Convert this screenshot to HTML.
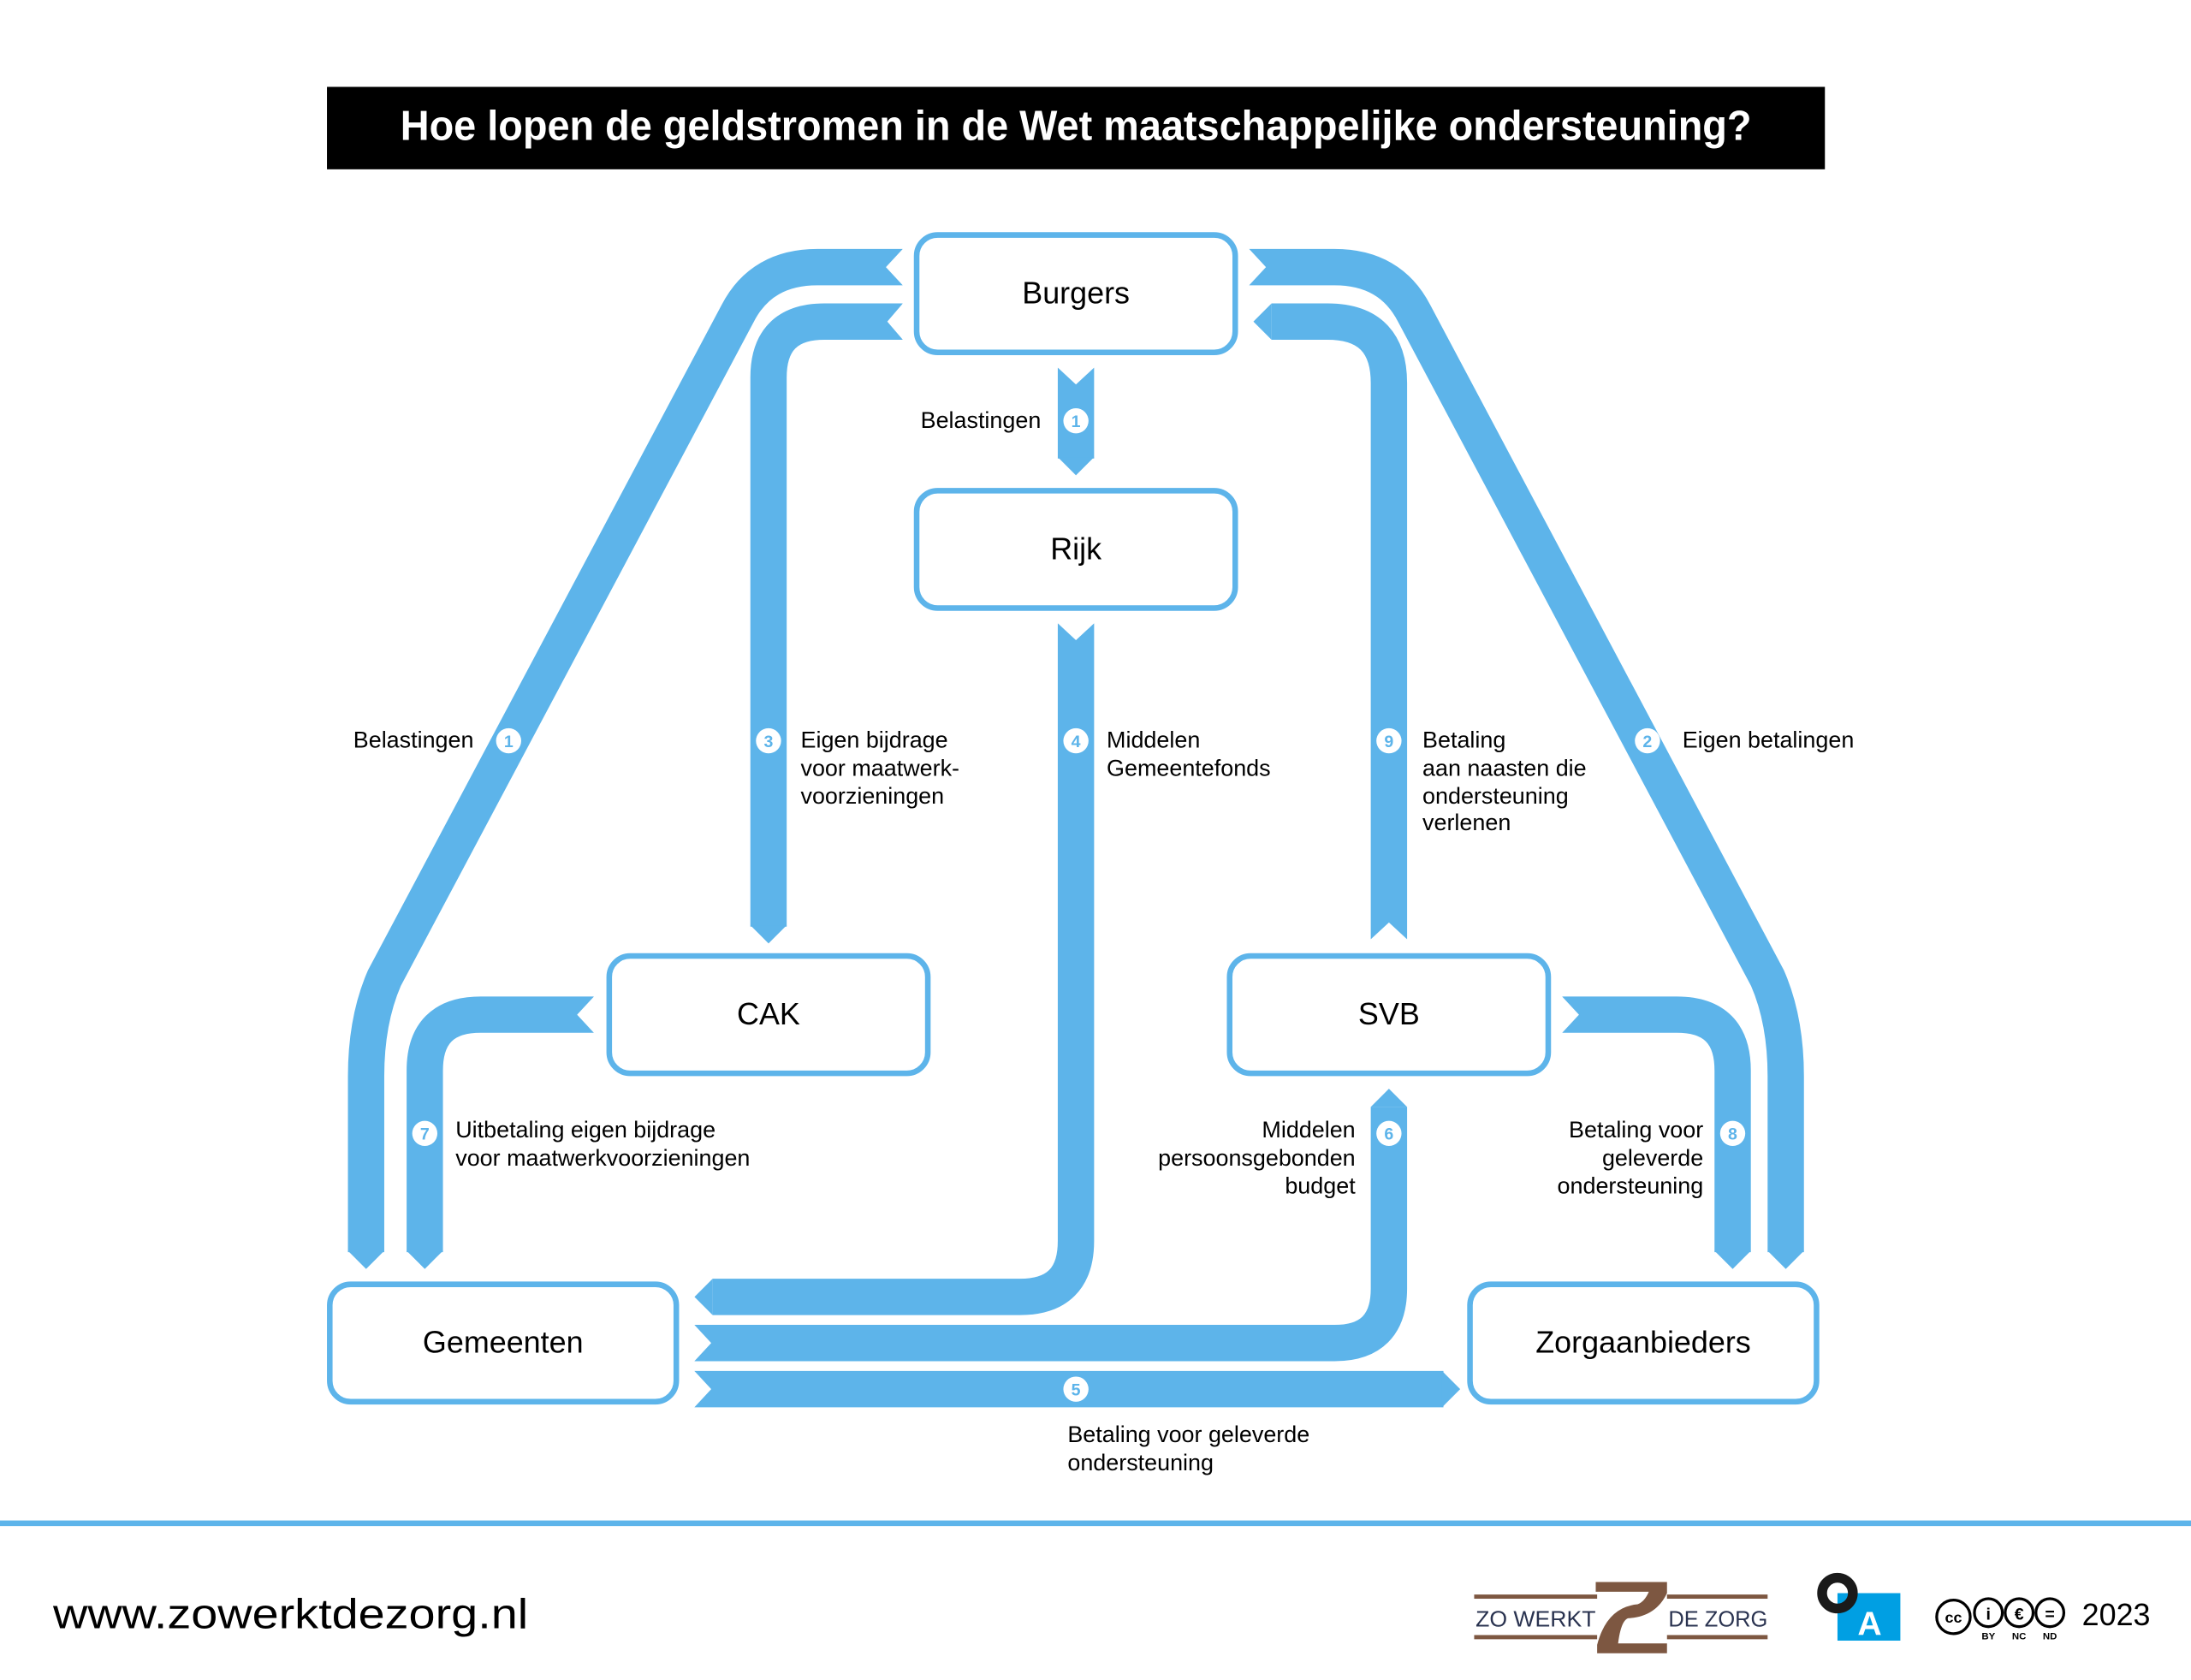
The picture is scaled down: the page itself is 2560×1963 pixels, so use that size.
<!DOCTYPE html>
<html><head><meta charset="utf-8"><style>
html,body{margin:0;padding:0;background:#fff;}
svg{display:block;}
text{font-family:"Liberation Sans",sans-serif;}
</style></head><body>
<svg width="2560" height="1963" viewBox="0 0 1568 1202" xmlns="http://www.w3.org/2000/svg">
<rect x="0" y="0" width="1568" height="1202" fill="#fff"/>
<rect x="234" y="62" width="1072" height="59" fill="#000"/>
<text x="770" y="100" font-size="30" font-weight="bold" fill="#fff" text-anchor="middle" textLength="967" lengthAdjust="spacingAndGlyphs">Hoe lopen de geldstromen in de Wet maatschappelijke ondersteuning?</text>

<g fill="none" stroke="#5db4ea" stroke-width="26" stroke-linejoin="round">
<path d="M646 191 L585 191 Q545 191 528 224 L275 700 Q262 730 262 770 L262 896"/>
<path d="M646 230 L590 230 Q550 230 550 270 L550 663"/>
<path d="M910 230 L950 230 Q994 230 994 274 L994 672"/>
<path d="M894 191 L955 191 Q995 191 1012 224 L1265 700 Q1278 730 1278 770 L1278 896"/>
<path d="M770 263 L770 328"/>
<path d="M770 446 L770 888 Q770 928 730 928 L510 928"/>
<path d="M497 961 L955 961 Q994 961 994 922 L994 792"/>
<path d="M497 994 L1033 994"/>
<path d="M425 726 L344 726 Q304 726 304 766 L304 896"/>
<path d="M1118 726 L1200 726 Q1240 726 1240 766 L1240 896"/>
</g>
<g fill="#5db4ea">
<polygon points="249,895 275,895 262,908"/>
<polygon points="537,662 563,662 550,675"/>
<polygon points="910,217 910,243 897,230"/>
<polygon points="1265,895 1291,895 1278,908"/>
<polygon points="757,327 783,327 770,340"/>
<polygon points="510,915 510,941 497,928"/>
<polygon points="981,792 1007,792 994,779"/>
<polygon points="1032,981 1032,1007 1045,994"/>
<polygon points="291,895 317,895 304,908"/>
<polygon points="1227,895 1253,895 1240,908"/>
</g>
<g fill="#fff">
<polygon points="647,177 647,205 634,191"/>
<polygon points="647,216 647,244 635,230"/>
<polygon points="980,673 1008,673 994,660"/>
<polygon points="893,177 893,205 906,191"/>
<polygon points="756,262 784,262 770,275"/>
<polygon points="756,445 784,445 770,458"/>
<polygon points="496,947 496,975 509,961"/>
<polygon points="496,980 496,1008 509,994"/>
<polygon points="426,712 426,740 413,726"/>
<polygon points="1117,712 1117,740 1130,726"/>
</g>

<g fill="#fff" stroke="#5db4ea" stroke-width="4">
<rect x="656" y="168" width="228" height="84" rx="15"/>
<rect x="656" y="351" width="228" height="84" rx="15"/>
<rect x="436" y="684" width="228" height="84" rx="15"/>
<rect x="880" y="684" width="228" height="84" rx="15"/>
<rect x="236" y="919" width="248" height="84" rx="15"/>
<rect x="1052" y="919" width="248" height="84" rx="15"/>
</g>
<g font-size="22" fill="#000" text-anchor="middle">
<text x="770" y="217">Burgers</text>
<text x="770" y="400">Rijk</text>
<text x="550" y="733">CAK</text>
<text x="994" y="733">SVB</text>
<text x="360" y="968">Gemeenten</text>
<text x="1176" y="968">Zorgaanbieders</text>
</g>

<g fill="#fff">
<circle cx="770" cy="301" r="9"/><circle cx="364" cy="530" r="9"/><circle cx="550" cy="530" r="9"/>
<circle cx="770" cy="530" r="9"/><circle cx="994" cy="530" r="9"/><circle cx="1179" cy="530" r="9"/>
<circle cx="304" cy="811" r="9"/><circle cx="994" cy="811" r="9"/><circle cx="1240" cy="811" r="9"/>
<circle cx="770" cy="994" r="9"/>
</g>
<g font-size="12" font-weight="bold" fill="#5db4ea" text-anchor="middle">
<text x="770" y="305.5">1</text><text x="364" y="534.5">1</text><text x="550" y="534.5">3</text>
<text x="770" y="534.5">4</text><text x="994" y="534.5">9</text><text x="1179" y="534.5">2</text>
<text x="304" y="815.5">7</text><text x="994" y="815.5">6</text><text x="1240" y="815.5">8</text>
<text x="770" y="998.5">5</text>
</g>

<g font-size="16.5" fill="#000">
<text x="745" y="306" text-anchor="end">Belastingen</text>
<text x="339" y="535" text-anchor="end">Belastingen</text>
<text x="573" y="535">Eigen bijdrage</text>
<text x="573" y="555">voor maatwerk-</text>
<text x="573" y="575">voorzieningen</text>
<text x="792" y="535">Middelen</text>
<text x="792" y="555">Gemeentefonds</text>
<text x="1018" y="535">Betaling</text>
<text x="1018" y="555">aan naasten die</text>
<text x="1018" y="575">ondersteuning</text>
<text x="1018" y="594">verlenen</text>
<text x="1204" y="535">Eigen betalingen</text>
<text x="326" y="814">Uitbetaling eigen bijdrage</text>
<text x="326" y="834">voor maatwerkvoorzieningen</text>
<text x="970" y="814" text-anchor="end">Middelen</text>
<text x="970" y="834" text-anchor="end">persoonsgebonden</text>
<text x="970" y="854" text-anchor="end">budget</text>
<text x="1219" y="814" text-anchor="end">Betaling voor</text>
<text x="1219" y="834" text-anchor="end">geleverde</text>
<text x="1219" y="854" text-anchor="end">ondersteuning</text>
<text x="764" y="1032">Betaling voor geleverde</text>
<text x="764" y="1052">ondersteuning</text>
</g>

<rect x="0" y="1088" width="1568" height="4" fill="#5db4ea"/>
<text x="38" y="1165" font-size="30" fill="#000" textLength="340" lengthAdjust="spacingAndGlyphs">www.zowerktdezorg.nl</text>

<g fill="#7d5741">
<rect x="1055" y="1141" width="88" height="3"/>
<rect x="1055" y="1170" width="88" height="3"/>
<rect x="1193" y="1141" width="72" height="3"/>
<rect x="1193" y="1170" width="72" height="3"/>
<path d="M1142 1132 L1193 1132 L1193 1140 Q1185 1157 1165 1158 Q1160 1160 1158 1176 L1193 1176 L1193 1183 L1143 1183 L1143 1177 Q1150 1150 1172 1148 Q1177 1146 1180 1139 L1142 1139 Z"/>
</g>
<text x="1056" y="1164" font-size="16" fill="#2a3350" textLength="86" lengthAdjust="spacingAndGlyphs">ZO WERKT</text>
<text x="1194" y="1164" font-size="16" fill="#2a3350" textLength="71" lengthAdjust="spacingAndGlyphs">DE ZORG</text>

<rect x="1315" y="1140" width="45" height="34" fill="#009fe3"/>
<text x="1338" y="1170" font-size="24" font-weight="bold" fill="#fff" text-anchor="middle">A</text>
<circle cx="1315" cy="1140" r="11" fill="none" stroke="#1a1a1a" stroke-width="7"/>

<g fill="none" stroke="#000" stroke-width="2">
<circle cx="1398" cy="1157" r="12"/>
<circle cx="1423" cy="1154" r="10"/>
<circle cx="1445" cy="1154" r="10"/>
<circle cx="1467" cy="1154" r="10"/>
</g>
<text x="1398" y="1161" font-size="11" font-weight="bold" text-anchor="middle">cc</text>
<text x="1423" y="1159" font-size="12" font-weight="bold" text-anchor="middle">i</text>
<text x="1445" y="1159" font-size="12" font-weight="bold" text-anchor="middle">€</text>
<text x="1467" y="1159" font-size="12" font-weight="bold" text-anchor="middle">=</text>
<g font-size="7" font-weight="bold" text-anchor="middle">
<text x="1423" y="1173">BY</text><text x="1445" y="1173">NC</text><text x="1467" y="1173">ND</text>
</g>
<text x="1490" y="1163" font-size="22" fill="#000">2023</text>
</svg>
</body></html>
